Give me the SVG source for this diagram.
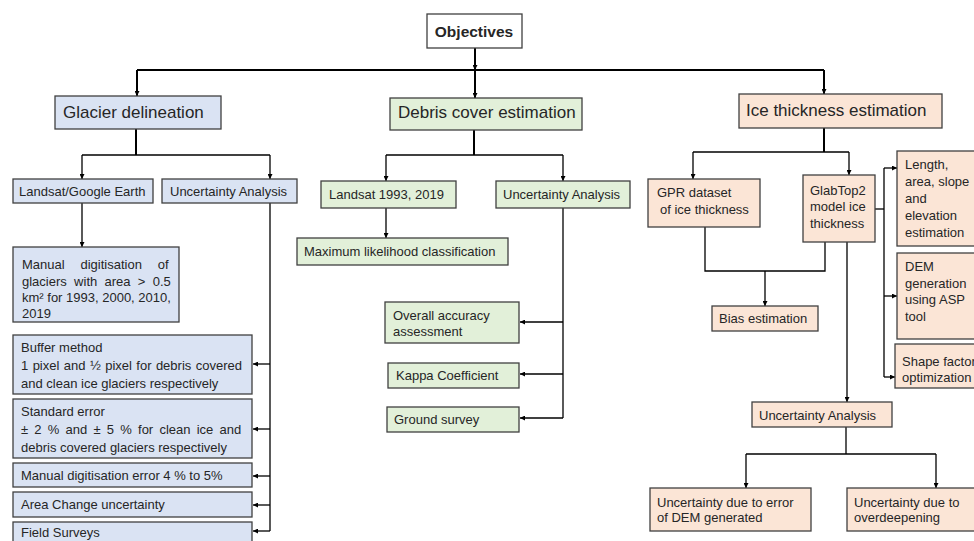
<svg xmlns="http://www.w3.org/2000/svg" width="974" height="541" viewBox="0 0 974 541">
<defs>
<marker id="ah" viewBox="0 0 10 10" refX="10" refY="5" markerWidth="5" markerHeight="5" markerUnits="userSpaceOnUse" orient="auto"><path d="M0,0 L10,5 L0,10 z" fill="#000"/></marker>
<style>
.bx rect{stroke:#404040;stroke-width:1.3}
.b rect{fill:#dae3f3}
.g rect{fill:#e2f0d9}
.o rect{fill:#fbe5d6}
text{font-family:"Liberation Sans",Arial,sans-serif;font-size:13px;fill:#262626}
.t{font-size:17px}
.c path{fill:none;stroke:#000;stroke-width:1.3}
.c path.k{stroke-width:2}
.c path.a{marker-end:url(#ah)}
</style>
</defs>
<rect width="974" height="541" fill="#fff"/>
<g class="c" id="connectors">
<path class="k a" d="M475,48 V70"/>
<path class="k" d="M137,70 H824"/>
<path class="k a" d="M137,70 V96"/>
<path class="k a" d="M475,70 V98"/>
<path class="k a" d="M824,70 V94"/>
<path class="k" d="M136,129 V155"/>
<path d="M82,155 H270"/>
<path class="a" d="M82,155 V179"/>
<path class="a" d="M270,155 V179"/>
<path class="a" d="M82,203 V247"/>
<path d="M270,203 V531"/>
<path class="a" d="M270,364 H253"/>
<path class="a" d="M270,429 H253"/>
<path class="a" d="M270,476 H253"/>
<path class="a" d="M270,505 H253"/>
<path class="a" d="M270,531 H253"/>
<path class="k" d="M474,130 V155"/>
<path d="M386,155 H563"/>
<path class="a" d="M386,155 V181"/>
<path class="a" d="M563,155 V181"/>
<path class="a" d="M386,208 V238"/>
<path d="M563,208 V418"/>
<path class="a" d="M563,322 H520"/>
<path class="a" d="M563,374 H520"/>
<path class="a" d="M563,418 H520"/>
<path class="k" d="M824,128 V152"/>
<path d="M693,152 H849"/>
<path class="a" d="M693,152 V179"/>
<path class="a" d="M849,152 V175"/>
<path d="M875,209 H884"/>
<path d="M884,168 V377"/>
<path class="a" d="M884,168 H897"/>
<path class="a" d="M884,296 H897"/>
<path class="a" d="M884,377 H895"/>
<path d="M705,227 V271 H825 V242"/>
<path class="a" d="M765,271 V306"/>
<path class="a" d="M847,242 V402"/>
<path d="M846,427 V454"/>
<path d="M746,454 H936"/>
<path class="a" d="M746,454 V488"/>
<path class="a" d="M936,454 V488"/>
</g>
<g id="objectives" class="bx"><rect x="427" y="14" width="95" height="34" fill="#fff"/><text x="474" y="36.5" text-anchor="middle" style="font-weight:bold;font-size:15.5px">Objectives</text></g>
<g id="glacier" class="bx b"><rect x="55" y="96" width="166" height="33"/><text class="t" x="63" y="118">Glacier delineation</text></g>
<g id="debris" class="bx g"><rect x="390" y="98" width="192" height="32"/><text class="t" x="398" y="118">Debris cover estimation</text></g>
<g id="ice" class="bx o"><rect x="739" y="94" width="203" height="34"/><text class="t" x="746" y="116">Ice thickness estimation</text></g>
<g id="landsat-ge" class="bx b"><rect x="13" y="179" width="140" height="24"/><text x="19" y="196">Landsat/Google Earth</text></g>
<g id="ua-glacier" class="bx b"><rect x="162" y="179" width="135" height="24"/><text x="170" y="196">Uncertainty Analysis</text></g>
<g id="manual-dig" class="bx b"><rect x="13" y="247" width="166" height="75"/>
<text x="22" y="268.6" word-spacing="12.2">Manual digitisation of</text>
<text x="22" y="285.6" word-spacing="3.7">glaciers with area &gt; 0.5</text>
<text x="22" y="301.6">km² for 1993, 2000, 2010,</text>
<text x="22" y="317.6">2019</text></g>
<g id="buffer" class="bx b"><rect x="13" y="335" width="239" height="59"/>
<text x="21" y="351.5">Buffer method</text>
<text x="21" y="369.5" word-spacing="0.8">1 pixel and ½ pixel for debris covered</text>
<text x="21" y="387.5">and clean ice glaciers respectively</text></g>
<g id="std-error" class="bx b"><rect x="13" y="399" width="239" height="59"/>
<text x="21" y="415.5">Standard error</text>
<text x="21" y="433.5" word-spacing="2.6">± 2 % and ± 5 % for clean ice and</text>
<text x="21" y="451.5">debris covered glaciers respectively</text></g>
<g id="dig-error" class="bx b"><rect x="13" y="463" width="239" height="24"/><text x="21" y="480">Manual digitisation error 4 % to 5%</text></g>
<g id="area-change" class="bx b"><rect x="13" y="492" width="239" height="25"/><text x="21" y="509">Area Change uncertainty</text></g>
<g id="field" class="bx b"><rect x="13" y="522" width="239" height="30"/><text x="21" y="536.5">Field Surveys</text></g>
<g id="landsat-93" class="bx g"><rect x="321" y="181" width="135" height="27"/><text x="329" y="199">Landsat 1993, 2019</text></g>
<g id="ua-debris" class="bx g"><rect x="496" y="181" width="134" height="27"/><text x="503" y="199">Uncertainty Analysis</text></g>
<g id="mlc" class="bx g"><rect x="297" y="238" width="211" height="27"/><text x="304" y="256">Maximum likelihood classification</text></g>
<g id="overall" class="bx g"><rect x="385" y="302" width="134" height="41"/><text x="393" y="319.5">Overall accuracy</text><text x="393" y="335.5">assessment</text></g>
<g id="kappa" class="bx g"><rect x="388" y="363" width="131" height="25"/><text x="396" y="380">Kappa Coefficient</text></g>
<g id="ground" class="bx g"><rect x="387" y="407" width="132" height="25"/><text x="394" y="424">Ground survey</text></g>
<g id="gpr" class="bx o"><rect x="648" y="179" width="112" height="48"/><text x="657" y="196.5">GPR dataset</text><text x="660" y="213.5">of ice thickness</text></g>
<g id="glabtop" class="bx o"><rect x="803" y="175" width="72" height="67"/><text x="810" y="194.5">GlabTop2</text><text x="810" y="210.5">model ice</text><text x="810" y="227.5">thickness</text></g>
<g id="length" class="bx o"><rect x="897" y="151" width="90" height="95"/><text x="905" y="168.5">Length,</text><text x="905" y="185.5">area, slope</text><text x="905" y="202.5">and</text><text x="905" y="219.5">elevation</text><text x="905" y="236.5">estimation</text></g>
<g id="dem" class="bx o"><rect x="897" y="253" width="90" height="86"/><text x="905" y="270.5">DEM</text><text x="905" y="287.5">generation</text><text x="905" y="303.5">using ASP</text><text x="905" y="320.5">tool</text></g>
<g id="shape" class="bx o"><rect x="895" y="344" width="92" height="44"/><text x="902" y="365.5">Shape factor</text><text x="902" y="381.5">optimization</text></g>
<g id="bias" class="bx o"><rect x="712" y="306" width="106" height="25"/><text x="719" y="322.5">Bias estimation</text></g>
<g id="ua-ice" class="bx o"><rect x="752" y="402" width="140" height="25"/><text x="759" y="419.5">Uncertainty Analysis</text></g>
<g id="u-dem" class="bx o"><rect x="650" y="488" width="161" height="43"/><text x="657" y="506.5">Uncertainty due to error</text><text x="657" y="521.5">of DEM generated</text></g>
<g id="u-over" class="bx o"><rect x="847" y="488" width="140" height="43"/><text x="854" y="506.5">Uncertainty due to</text><text x="854" y="521.5">overdeepening</text></g>
</svg>
